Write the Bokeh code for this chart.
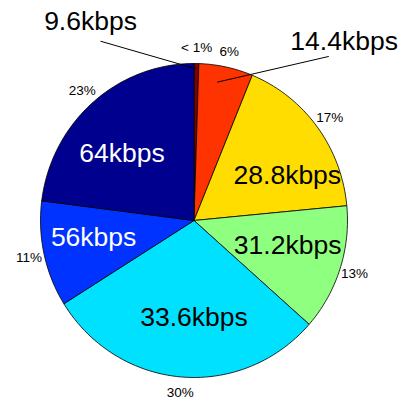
import numpy as np
from bokeh.plotting import figure
from bokeh.models import ColumnDataSource, Range1d
from bokeh.core.properties import value
from bokeh.embed import file_html
from bokeh.resources import INLINE

# ---- data ----
categories = ["9.6kbps", "14.4kbps", "28.8kbps", "31.2kbps", "33.6kbps", "56kbps", "64kbps"]
shares = [0.5, 5.7, 17.3, 13.0, 29.6, 10.9, 23.0]
pct_labels = ["< 1%", "6%", "17%", "13%", "30%", "11%", "23%"]
colors = ["#800000", "#FF3300", "#FFDD00", "#8FFF80", "#00E1FF", "#0033FF", "#00008F"]
label_colors = ["black", "black", "black", "black", "black", "white", "white"]
# label anchor positions (in pie-radius units)
label_x = [-0.674, 0.978, 0.608, 0.610, 0.0, -0.654, -0.469]
label_y = [1.268, 1.146, 0.287, -0.159, -0.617, -0.108, 0.427]
# leader lines for the tiny slices: (x0, y0, x1, y1)
leaders = [(-0.609, 1.142, 0.014, 0.966), (0.151, 0.881, 0.878, 1.045)]

W, H = 401, 402
p = figure(width=W, height=H, output_backend="svg", toolbar_location=None,
           x_range=Range1d(-1.2606, 1.3518), y_range=Range1d(-1.1592, 1.4013),
           min_border=0)
p.axis.visible = False
p.grid.visible = False
p.outline_line_color = None
p.background_fill_color = "white"

frac = np.array(shares) / np.sum(shares)
cum = np.concatenate([[0], np.cumsum(frac)])
xs, ys = [], []
for i in range(len(frac)):
    a0, a1 = cum[i] * 2 * np.pi, cum[i + 1] * 2 * np.pi
    t = np.linspace(a0, a1, max(4, int(200 * frac[i]) + 2))
    xs.append(np.concatenate([[0], np.sin(t), [0]]).tolist())
    ys.append(np.concatenate([[0], np.cos(t), [0]]).tolist())
src = ColumnDataSource(dict(xs=xs, ys=ys, color=colors))
p.patches("xs", "ys", source=src, fill_color="color", line_color="black", line_width=0.8)

# percent labels at 1.1 radius
mid = (cum[:-1] + cum[1:]) / 2 * 2 * np.pi
psrc = ColumnDataSource(dict(x=(1.1 * np.sin(mid)).tolist(), y=(1.1 * np.cos(mid)).tolist(), t=pct_labels))
p.text("x", "y", text="t", source=psrc, text_font=value("Liberation Sans"), text_font_size="13.5px",
       text_align="center", text_baseline="middle", text_color="black")

# category labels
lsrc = ColumnDataSource(dict(x=label_x, y=label_y, t=categories, c=label_colors))
p.text("x", "y", text="t", source=lsrc, text_font=value("Liberation Sans"), text_font_size="26.5px",
       text_align="center", text_baseline="middle", text_color="c")

p.segment([l[0] for l in leaders], [l[1] for l in leaders], [l[2] for l in leaders], [l[3] for l in leaders],
          line_color="black", line_width=1)

open("out.html", "w").write(file_html(p, INLINE))
